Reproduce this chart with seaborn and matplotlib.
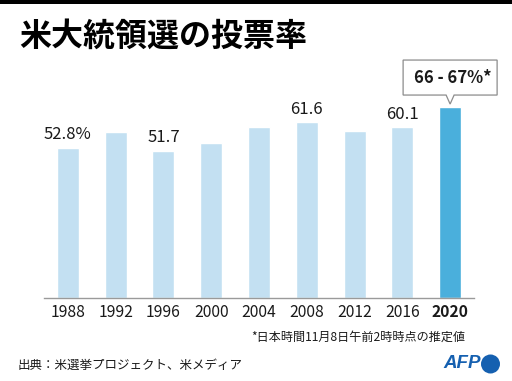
import matplotlib
matplotlib.use("Agg")
import matplotlib.pyplot as plt
import matplotlib.transforms as mtransforms
from matplotlib.patches import Rectangle, Polygon, Circle
import seaborn as sns
import pandas as pd

# ---- data ----
years = ["1988", "1992", "1996", "2000", "2004", "2008", "2012", "2016", "2020"]
turnout = [52.8, 58.2, 51.7, 54.3, 60.1, 61.6, 58.6, 60.1, 67.0]
value_labels = ["52.8%", "", "51.7", "", "", "61.6", "", "60.1", ""]
highlight_label = "66 - 67%*"
title = "米大統領選の投票率"
footnote = "*日本時間11月8日午前2時時点の推定値"
source = "出典：米選挙プロジェクト、米メディア"

light = "#c3e0f2"
dark = "#4aafdc"
colors = [light] * (len(years) - 1) + [dark]

sns.set_theme(style="white")
plt.rcParams["font.family"] = ["Noto Sans CJK JP", "DejaVu Sans"]

W, H = 512, 381
fig = plt.figure(figsize=(W / 100, H / 100), dpi=100)
fig.patch.set_facecolor("white")

def fx(px):
    return px / W

def fy(py):
    return 1 - py / H

ax = fig.add_axes([fx(44), fy(298), fx(474) - fx(44), fy(98.5) - fy(298)])

df = pd.DataFrame({"year": years, "turnout": turnout})
sns.barplot(data=df, x="year", y="turnout", hue="year", palette=colors,
            legend=False, width=0.46, ax=ax, saturation=1)

ax.set_ylim(0, 70)
ax.set_xlim(-0.5, len(years) - 0.5)
ax.set_xlabel("")
ax.set_ylabel("")
ax.set_yticks([])
for s in ["left", "right", "top"]:
    ax.spines[s].set_visible(False)
ax.spines["bottom"].set_color("#9a9a9a")
ax.spines["bottom"].set_linewidth(1.0)
ax.tick_params(axis="x", length=0, pad=4, labelsize=11.3, colors="#1a1a1a")
ax.set_xticks(range(len(years)))
ax.set_xticklabels(years)
ax.get_xticklabels()[-1].set_fontweight("bold")

# value labels above bars
for i, (v, lab) in enumerate(zip(turnout, value_labels)):
    if lab:
        ax.annotate(lab, (i, v), xytext=(0, 3), textcoords="offset points",
                    ha="center", va="bottom", fontsize=12, color="#1a1a1a")

# callout for last bar (pixel offsets anchored at bar top)
i_last = len(years) - 1
trans = mtransforms.Affine2D() + mtransforms.ScaledTranslation(i_last, turnout[-1], ax.transData)
box = Polygon([(-47, 12), (-4, 12), (0, 3), (4, 12), (47, 12), (47, 47), (-47, 47)],
              closed=True, facecolor="white", edgecolor="#8c8c8c", linewidth=0.9,
              transform=trans, clip_on=False)
ax.add_patch(box)
ax.text(3, 29.5, highlight_label, transform=trans, ha="center", va="center",
        fontsize=12, fontweight="bold", color="#1a1a1a", clip_on=False)

# top black band
fig.patches.append(Rectangle((0, fy(4)), 1, 1 - fy(4), transform=fig.transFigure,
                             facecolor="black", edgecolor="none"))

fig.text(fx(19), fy(37), title, ha="left", va="center", fontsize=23,
         fontweight="bold", color="black")
fig.text(fx(465), fy(337), footnote, ha="right", va="center", fontsize=8.7,
         color="#1a1a1a")
fig.text(fx(18), fy(365), source, ha="left", va="center", fontsize=9.0,
         color="#1a1a1a")

# AFP logo
afp_blue = "#1560b0"
fig.text(fx(443), fy(364), "AFP", ha="left", va="center", fontsize=13.5,
         fontweight="bold", fontstyle="italic", family=["Liberation Sans"],
         color=afp_blue)
fig.patches.append(Circle((0, 0), radius=9.5,
                          transform=mtransforms.Affine2D() +
                          mtransforms.ScaledTranslation(fx(490.5), fy(364), fig.transFigure),
                          facecolor=afp_blue, edgecolor="none"))

fig.savefig("out.png", dpi=100, facecolor="white")
